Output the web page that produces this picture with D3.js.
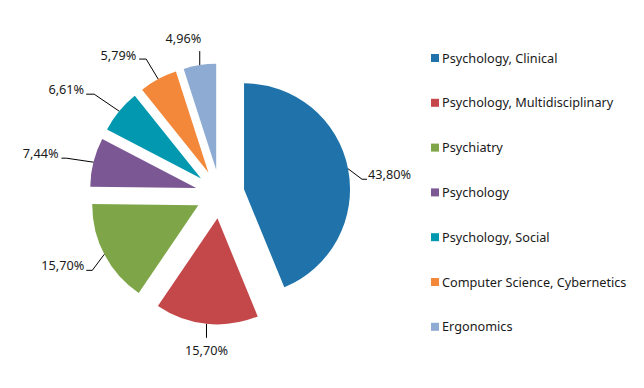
<!DOCTYPE html>
<html>
<head>
<meta charset="utf-8">
<script src="https://cdn.jsdelivr.net/npm/d3@7"></script>
<style>
  body { margin: 0; background: #fff; }
  text { font-family: "Noto Sans", "Open Sans", sans-serif; fill: #1a1a1a; }
</style>
</head>
<body>
<div id="chart-area"></div>
<script>
var categories = ["Psychology, Clinical", "Psychology, Multidisciplinary", "Psychiatry",
    "Psychology", "Psychology, Social", "Computer Science, Cybernetics", "Ergonomics"];
var values = [43.80, 15.70, 15.70, 7.44, 6.61, 5.79, 4.96];
var labels = ["43,80%", "15,70%", "15,70%", "7,44%", "6,61%", "5,79%", "4,96%"];
var colors = ["#1F73AA", "#C4474A", "#7EA648", "#7B5794", "#0198B0", "#F3873A", "#8DABD3"];

// leader line layout: elbow offset from the arc point, horizontal tail, text anchor
var labelLayout = [
    {ex: 14, ey: 10.5, tail: 5, anchor: "start", tx: 1, ty: 0},
    {ex: 0, ey: 14, tail: 0, anchor: "middle", tx: 0, ty: 17},
    {ex: -12, ey: 16, tail: -6, anchor: "end", tx: -2, ty: 0},
    {ex: -27, ey: -4, tail: -5, anchor: "end", tx: -3, ty: 0},
    {ex: -25, ey: -17, tail: -8, anchor: "end", tx: -2, ty: 0},
    {ex: -12, ey: -20, tail: -7, anchor: "end", tx: -3, ty: 1},
    {ex: 0, ey: -14, tail: 0, anchor: "end", tx: 1.5, ty: -8}
];

var width = 644, height = 388;
var cx = 220, cy = 194, radius = 106, explode = 24.5;
var fontSize = "12.7px";

var svg = d3.select("#chart-area")
    .append("svg")
    .attr("width", width)
    .attr("height", height);

var data = values.map(function(v, i){
    return {name: categories[i], value: v, label: labels[i], color: colors[i]};
});

var pie = d3.pie()
    .sort(null)
    .value(function(d){ return d.value; });

var arc = d3.arc()
    .innerRadius(0)
    .outerRadius(radius);

var arcs = pie(data);

var g = svg.append("g")
    .attr("transform", "translate(" + cx + "," + cy + ")");

var slices = g.selectAll("g.slice")
    .data(arcs)
    .enter()
    .append("g")
    .attr("class", "slice")
    .attr("transform", function(d){
        var mid = (d.startAngle + d.endAngle) / 2;
        return "translate(" + (explode * Math.sin(mid)) + "," + (-explode * Math.cos(mid)) + ")";
    });

slices.append("path")
    .attr("d", arc)
    .attr("fill", function(d){ return d.data.color; });

slices.each(function(d, i){
    var mid = (d.startAngle + d.endAngle) / 2;
    var px = radius * Math.sin(mid), py = -radius * Math.cos(mid);
    var L = labelLayout[i];
    var ex = px + L.ex, ey = py + L.ey;
    var tx = ex + L.tail;
    var s = d3.select(this);
    s.append("polyline")
        .attr("points", [[px, py], [ex, ey], [tx, ey]].map(function(p){ return p.join(","); }).join(" "))
        .attr("fill", "none")
        .attr("stroke", "#000")
        .attr("stroke-width", 1);
    s.append("text")
        .attr("x", tx + L.tx)
        .attr("y", ey + L.ty)
        .attr("text-anchor", L.anchor)
        .attr("font-size", fontSize)
        .text(d.data.label);
});

// legend
var legend = svg.append("g")
    .attr("transform", "translate(431,58)");

var rows = legend.selectAll("g")
    .data(data)
    .enter()
    .append("g")
    .attr("transform", function(d, i){ return "translate(0," + (i * 44.8) + ")"; });

rows.append("rect")
    .attr("x", 0)
    .attr("y", -4)
    .attr("width", 8)
    .attr("height", 8)
    .attr("fill", function(d){ return d.color; });

rows.append("text")
    .attr("x", 11)
    .attr("y", 4.5)
    .attr("font-size", fontSize)
    .text(function(d){ return d.name; });
</script>
</body>
</html>
